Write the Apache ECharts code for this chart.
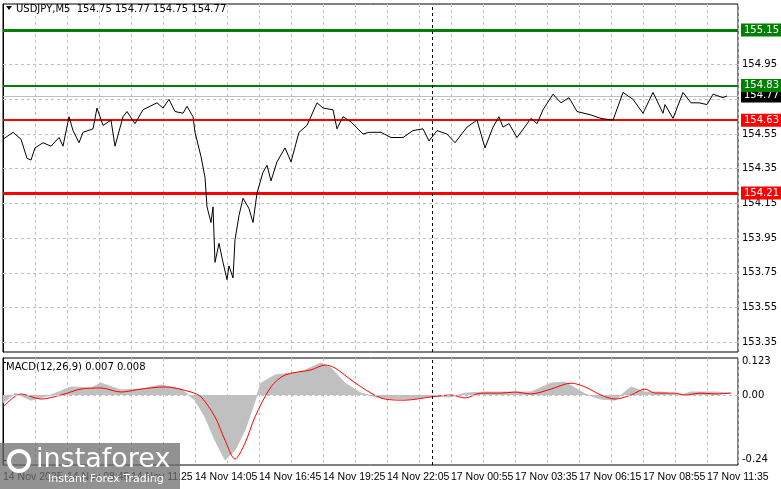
<!DOCTYPE html>
<html><head><meta charset="utf-8">
<script src="https://cdn.jsdelivr.net/npm/echarts@6/dist/echarts.min.js"></script>
<style>html,body{margin:0;padding:0;background:#fff}#c{width:781px;height:489px}</style>
</head><body><div id="c"></div>
<script>
// price line: bar index and close
const priceBars = [0,5,9,12,14,16,20,24,28,30,33,35,38,40,45,47,50,54,56,60,62,66,70,77,80,83,86,90,92,95,96,99,101,102,104,105,106,108,110,112,113,115,116,118,120,123,125,127,130,132,134,137,141,144,148,152,157,160,165,167,170,174,180,183,189,194,200,205,210,213,217,222,226,232,237,241,245,248,250,253,257,264,267,270,275,279,283,287,294,299,305,310,315,320,325,330,331,335,340,344,348,352,355,360,362];
const priceVals = [154.52,154.56,154.52,154.41,154.40,154.47,154.50,154.48,154.53,154.48,154.65,154.57,154.50,154.56,154.58,154.70,154.60,154.63,154.48,154.65,154.68,154.61,154.69,154.73,154.70,154.75,154.68,154.67,154.71,154.65,154.56,154.42,154.30,154.13,154.04,154.13,153.81,153.92,153.81,153.71,153.79,153.72,153.94,154.08,154.18,154.12,154.04,154.21,154.33,154.37,154.28,154.39,154.47,154.39,154.56,154.60,154.73,154.70,154.69,154.58,154.65,154.62,154.55,154.56,154.56,154.53,154.53,154.57,154.58,154.51,154.57,154.55,154.50,154.59,154.63,154.47,154.59,154.65,154.59,154.61,154.53,154.64,154.61,154.69,154.78,154.73,154.76,154.68,154.66,154.64,154.63,154.79,154.75,154.67,154.79,154.67,154.72,154.64,154.79,154.73,154.73,154.72,154.78,154.76,154.77];
const macdSignalBars = [0,9,19,29,39,49,59,69,81,94,99,106,111,116,121,126,134,141,154,161,166,174,184,191,201,214,224,231,239,249,256,264,274,284,291,299,306,314,321,326,336,341,349,356,364];
const macdSignal = [-0.044,0.004,-0.015,0,0.022,0.026,0.011,0.022,0.030,0.011,-0.007,-0.081,-0.167,-0.237,-0.178,-0.081,0.030,0.074,0.093,0.111,0.100,0.056,0.007,-0.015,-0.019,-0.007,0,-0.011,0.007,0.007,0.011,0.004,0.022,0.044,0.030,0,-0.015,0,0.022,0.007,0.007,0,0.007,0.004,0.007];
const macdHistBars = [0,6,14,24,34,44,49,59,69,79,89,96,101,106,111,116,121,125,129,136,149,159,164,171,179,189,204,214,224,231,241,254,264,274,281,291,299,306,314,321,329,339,344,356,364];
const macdHist = [-0.03,0.007,-0.019,0,0.03,0.026,0.044,0.019,0.022,0.037,0.022,-0.019,-0.081,-0.167,-0.24,-0.204,-0.13,-0.044,0.044,0.074,0.085,0.119,0.1,0.044,0.007,-0.011,-0.015,-0.004,-0.007,0.007,0.011,0.011,0.011,0.044,0.048,0.004,-0.015,-0.019,0.03,0.011,0.011,0,0.011,0.011,0.007];
const priceTicks = [153.35,153.55,153.75,153.95,154.15,154.35,154.55,154.75,154.95];
const timeTicks = [0,32,64,96,128,160,192,224,256,288,320,352];
const timeLabels = ["14 Nov 2025","14 Nov 08:45","14 Nov 11:25","14 Nov 14:05","14 Nov 16:45","14 Nov 19:25","14 Nov 22:05","17 Nov 00:55","17 Nov 03:35","17 Nov 06:15","17 Nov 08:55","17 Nov 11:35"];
const levels = [
  {v:155.15,c:'#008000',w:3},{v:154.83,c:'#008000',w:2},
  {v:154.63,c:'#ff0000',w:2},{v:154.21,c:'#ff0000',w:3}];
const lastPrice = 154.77;
const sepBar = 214.5;

const n = Math.min(priceBars.length, priceVals.length);
const priceData = priceBars.slice(0,n).map((b,i)=>[b,priceVals[i]]);
const sigData = macdSignalBars.map((b,i)=>[b,macdSignal[i]]);
const histData = macdHistBars.map((b,i)=>[b,macdHist[i]]);
const F = 'DejaVu Sans';
const L = 'Liberation Sans';
const chart = echarts.init(document.getElementById('c'));
const dash = {color:'#c0c0c0',type:[3,3],width:1};
const boxLabel = (txt,bg)=>({show:true,position:'end',formatter:txt,backgroundColor:bg,color:'#fff',fontFamily:F,fontSize:10,padding:[2,5,1,3],distance:3});
const lvlLines = levels.map(l=>({yAxis:l.v,lineStyle:{color:l.c,width:l.w,type:'solid'},label:boxLabel(l.v.toFixed(2),l.c)}));
const gridLines = priceTicks.map(v=>({yAxis:v,lineStyle:dash,label:{show:false}}));
chart.setOption({
  animation:false,
  textStyle:{fontFamily:F},
  grid:[{left:3,top:4,width:735,height:348,show:true,borderColor:'#000',borderWidth:1},
        {left:3,top:358,width:735,height:107,show:true,borderColor:'#000',borderWidth:1}],
  xAxis:[
    {type:'value',gridIndex:0,min:0,max:367.5,interval:16,axisLabel:{show:false},axisTick:{show:false},axisLine:{show:false},splitLine:{show:true,lineStyle:dash}},
    {type:'value',gridIndex:1,min:0,max:367.5,interval:16,axisLine:{show:false},axisTick:{show:false},splitLine:{show:true,lineStyle:dash},
     axisLabel:{customValues:timeTicks,align:'left',color:'#000',fontSize:10.5,margin:7,fontFamily:L,hideOverlap:false,showMinLabel:true,showMaxLabel:true,formatter:v=>timeLabels[Math.round(v/32)]}}
  ],
  yAxis:[
    {type:'value',gridIndex:0,position:'right',min:153.293,max:155.30,splitLine:{show:false},
     axisLine:{show:true,lineStyle:{color:'#000'}},axisTick:{show:true,customValues:priceTicks,length:3},
     axisLabel:{customValues:priceTicks,color:'#000',fontSize:10,margin:4,fontFamily:F,formatter:v=>v.toFixed(2)}},
    {type:'value',gridIndex:1,position:'right',min:-0.259,max:0.137,splitLine:{show:false},
     axisLine:{show:true,lineStyle:{color:'#000'}},axisTick:{show:true,customValues:[0.123,0,-0.24],length:3},
     axisLabel:{customValues:[0.123,0,-0.24],color:'#000',fontSize:10,margin:4,fontFamily:F,formatter:v=>v===0?'0.00':(v===0.123?'0.123':v.toFixed(2))}}
  ],
  series:[
    {type:'line',xAxisIndex:0,yAxisIndex:0,data:priceData,symbol:'none',lineStyle:{color:'#000',width:1},z:5,
     markLine:{silent:true,symbol:'none',animation:false,
       data:[...gridLines,{yAxis:lastPrice,lineStyle:{color:'#c0c0c0',width:1,type:'solid'},label:boxLabel(lastPrice.toFixed(2),'#000')},
         ...lvlLines,{xAxis:sepBar,lineStyle:{color:'#000',type:[3,3],width:1},label:{show:false}}]}},
    {type:'line',xAxisIndex:1,yAxisIndex:1,data:histData,symbol:'none',lineStyle:{color:'#c0c0c0',width:1},areaStyle:{color:'#c0c0c0',opacity:1,origin:0},z:2,
     markLine:{silent:true,symbol:'none',data:[{yAxis:0,lineStyle:dash,label:{show:false}},{xAxis:sepBar,lineStyle:{color:'#000',type:[3,3],width:1},label:{show:false}}]}},
    {type:'line',xAxisIndex:1,yAxisIndex:1,data:sigData,symbol:'none',smooth:0.3,lineStyle:{color:'#ff0000',width:1},z:4}
  ],
  graphic:[
    {type:'polygon',shape:{points:[[6,6],[12,6],[9,10]]},style:{fill:'#000'},z:10},
    {type:'text',left:16,top:4,style:{text:'USDJPY,M5  154.75 154.77 154.75 154.77',font:'10px DejaVu Sans',fill:'#000'},z:10},
    {type:'text',left:6,top:362,style:{text:'MACD(12,26,9) 0.007 0.008',font:'10px DejaVu Sans',fill:'#000'},z:10},
    {type:'rect',shape:{x:0,y:443,width:180,height:46},style:{fill:'rgba(110,110,110,0.75)'},z:20},
    {type:'circle',shape:{cx:19,cy:461,r:10},style:{fill:'none',stroke:'#fff',lineWidth:4},z:21},
    {type:'text',left:36,top:446,style:{text:'instaforex',font:'27px DejaVu Sans',fill:'#fff'},z:21},
    {type:'text',left:48,top:474,style:{text:'Instant Forex Trading',font:'11px DejaVu Sans',fill:'#fff'},z:21}
  ]
});
</script></body></html>
